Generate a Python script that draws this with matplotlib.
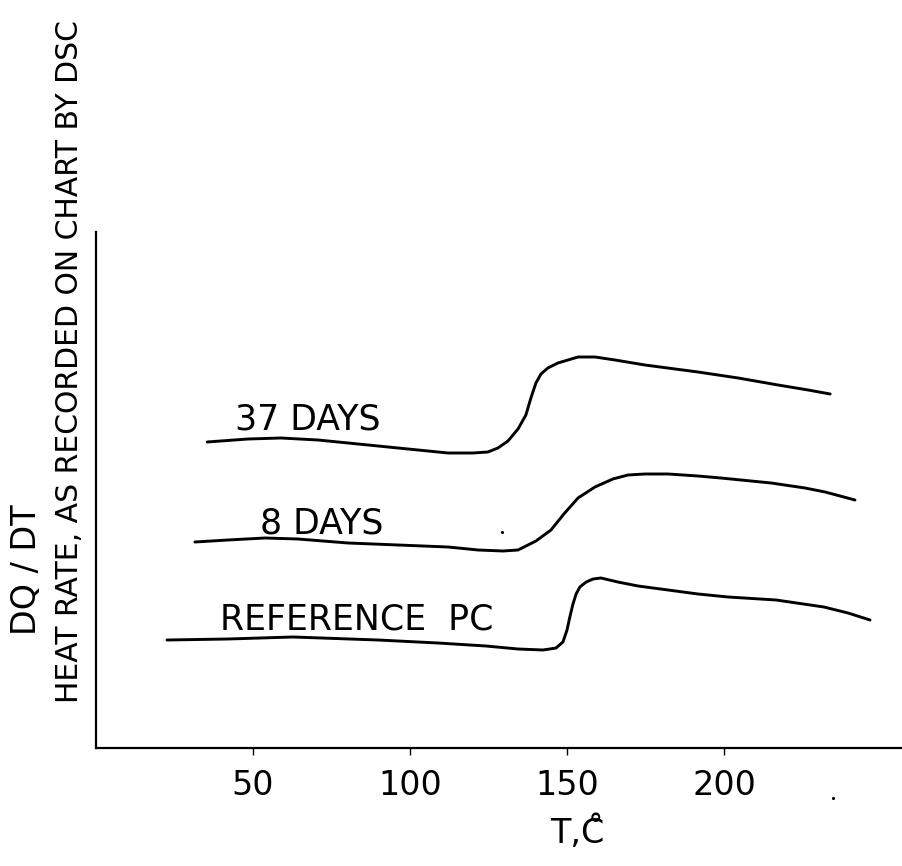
import matplotlib.pyplot as plt

# DSC traces: temperature (C) vs recorded heat rate (arbitrary chart units)
t_37 = [35.4, 48.4, 58.9, 70.7, 80.3, 96.2, 112.1, 120.1, 124.8, 128.0, 131.2, 134.4,
        136.9, 138.5, 140.1, 141.7, 143.9, 147.1, 153.5, 158.9, 165.3, 174.8, 191.7,
        204.5, 217.2, 226.8, 233.8]
q_37 = [306, 309, 310, 308, 305, 300, 295, 295, 296, 300, 307, 319,
        333, 350, 365, 374, 380, 385, 391, 391, 388, 383, 376,
        370, 363, 358, 354]

t_8 = [31.5, 42.0, 53.8, 64.3, 80.3, 96.2, 112.1, 121.7, 129.6, 134.4, 140.1, 144.9,
       149.0, 153.5, 158.9, 164.6, 169.4, 174.8, 182.2, 191.7, 199.0, 215.0, 225.8,
       232.2, 241.7]
q_8 = [206, 208, 210, 209, 205, 203, 201, 198, 197, 198, 207, 218,
       234, 250, 261, 269, 273, 274, 274, 272, 270, 265, 260,
       256, 248]

t_ref = [22.6, 42.0, 62.7, 89.8, 108.9, 124.2, 134.4, 142.4, 146.5, 148.7, 150.0, 150.9,
         151.9, 152.9, 154.1, 156.1, 158.3, 160.8, 166.2, 172.6, 182.2, 191.7, 201.3,
         216.6, 231.8, 239.5, 246.5]
q_ref = [108, 109, 111, 108, 105, 102, 99, 98, 100, 106, 118, 131,
         144, 154, 161, 166, 169, 170, 166, 162, 158, 154, 151,
         148, 141, 135, 128]

labels = ["37 DAYS", "8 DAYS", "REFERENCE  PC"]
label_t = [44.3, 52.2, 39.5]
label_q = [318, 215, 118]

# specks on the scanned chart
speck_t = [129.3, 234.7]
speck_q = [216, -50]

xticks = [50, 100, 150, 200]

fig = plt.figure(figsize=(9.03, 8.66), dpi=100)
ax = fig.add_axes([96/903, 118/866, 807/903, 516/866])

for t, q in [(t_37, q_37), (t_8, q_8), (t_ref, q_ref)]:
    ax.plot(t, q, color='black', lw=2.1, solid_capstyle='round', solid_joinstyle='round')

for lab, x, y in zip(labels, label_t, label_q):
    ax.text(x, y, lab, fontsize=25, ha='left', va='baseline')

ax.plot(speck_t, speck_q, 'k.', ms=2.5, clip_on=False)

ax.set_xlim(0, 257)
ax.set_ylim(0, 516)
ax.spines['top'].set_visible(False)
ax.spines['right'].set_visible(False)
ax.spines['left'].set_linewidth(1.6)
ax.spines['bottom'].set_linewidth(1.6)
ax.set_xticks(xticks)
ax.set_xticklabels([str(v) for v in xticks], fontsize=24)
ax.tick_params(axis='x', direction='out', length=5, width=1, pad=10)
ax.set_yticks([])

ax.set_xlabel("T,C\u030a", fontsize=24)
ax.xaxis.set_label_coords((577 - 96) / 807, -0.13)

fig.text(27/903, 1 - 570/866, "DQ / DT", rotation=90, fontsize=24,
         ha='center', va='center')
fig.text(70/903, 1 - 362/866, "HEAT RATE, AS RECORDED ON CHART BY DSC",
         rotation=90, fontsize=21.5, ha='center', va='center')

fig.savefig("out.png", dpi=100)
